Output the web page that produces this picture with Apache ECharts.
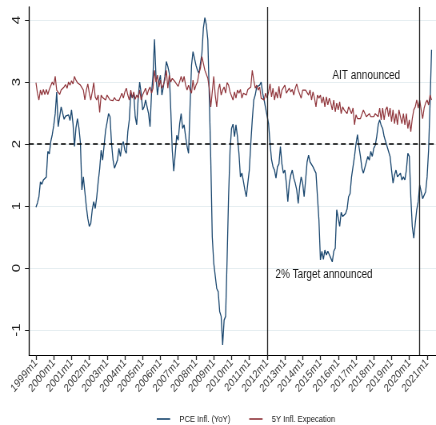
<!DOCTYPE html>
<html><head><meta charset="utf-8">
<script src="https://cdn.jsdelivr.net/npm/echarts@6/dist/echarts.min.js"></script>
<style>
html,body{margin:0;padding:0;background:#fff;overflow:hidden}
#wrap{width:436px;height:425px;overflow:hidden;position:relative}
#chart{width:545px;height:425px;transform:scaleX(0.8);transform-origin:0 0}
</style></head><body><div id="wrap"><div id="chart"></div></div>
<script>
// month index 0 = 1999m1
const tickLabels = ['1999m1','2000m1','2001m1','2002m1','2003m1','2004m1','2005m1','2006m1','2007m1','2008m1','2009m1','2010m1','2011m1','2012m1','2013m1','2014m1','2015m1','2016m1','2017m1','2018m1','2019m1','2020m1','2021m1'];
const yTicks = [-1, 0, 1, 2, 3, 4];
const seriesNames = ['PCE Infl. (YoY)', '5Y Infl. Expecation'];
const pce = [
0.98,1.05,1.15,1.39,1.35,1.42,1.45,1.47,1.88,1.84,
2.04,2.15,2.30,2.49,2.84,2.28,2.29,2.60,2.58,2.40,
2.45,2.43,2.47,2.38,2.55,2.33,1.96,2.26,2.41,2.26,
2.02,1.26,1.47,1.23,0.99,0.80,0.67,0.72,0.94,1.07,
0.96,1.14,1.39,1.60,1.90,1.74,1.98,2.22,2.35,2.49,
2.44,2.01,1.75,1.61,1.59,1.74,1.93,1.80,1.98,2.04,
1.90,1.85,2.20,2.39,2.82,2.75,2.82,2.44,2.31,2.74,
3.00,2.82,2.55,2.60,2.71,2.74,2.49,2.28,2.82,3.11,
3.69,3.10,2.79,3.00,3.11,2.79,2.92,3.09,3.33,3.25,
3.14,2.55,1.90,1.56,1.84,2.14,2.06,2.33,2.49,2.25,
2.31,2.12,1.96,1.85,2.60,3.27,3.49,3.38,3.27,3.19,
3.14,3.30,3.46,3.87,4.04,3.92,3.68,2.76,1.74,0.50,
0.08,0.07,-0.33,-0.38,-0.70,-0.78,-1.24,-0.84,-0.78,0.13,
1.15,1.90,2.25,2.32,2.12,2.31,2.12,1.85,1.47,1.53,
1.40,1.26,1.15,1.37,1.58,2.01,2.39,2.71,2.79,2.92,
2.90,2.95,3.00,2.82,2.71,2.58,2.55,2.33,2.01,1.75,
1.63,1.58,1.45,1.63,1.68,1.96,1.68,1.53,1.58,1.37,
1.07,1.37,1.50,1.58,1.45,1.37,1.26,1.04,1.31,1.47,
1.37,1.15,1.42,1.71,1.82,1.71,1.74,1.63,1.58,1.53,
1.15,0.77,0.13,0.27,0.14,0.29,0.21,0.27,0.29,0.16,
0.10,0.27,0.32,0.94,0.81,0.67,0.90,0.83,0.80,0.88,
0.95,1.15,1.20,1.47,1.45,1.80,2.00,2.15,1.96,1.80,
1.61,1.53,1.55,1.71,1.80,1.74,1.88,1.80,1.93,1.98,
2.12,2.31,2.39,2.30,2.25,2.12,2.04,1.96,1.88,1.80,
1.58,1.37,1.50,1.58,1.47,1.45,1.53,1.42,1.47,1.42,
1.58,1.85,1.80,1.15,0.67,0.48,0.72,0.94,1.07,1.34,
1.23,1.12,1.15,1.23,1.47,1.90,2.66,3.52
];
const expect5y = [
2.99,2.82,2.71,2.87,2.79,2.88,2.80,2.88,2.80,2.88,
2.91,3.00,2.95,3.09,2.87,2.90,2.80,2.87,2.84,2.92,
2.96,2.90,3.00,2.95,3.02,2.97,3.09,3.03,2.99,3.02,
2.95,2.97,2.87,2.71,2.87,2.97,2.82,2.71,2.84,2.99,
2.76,2.71,2.79,2.51,2.79,2.75,2.77,2.71,2.79,2.76,
2.71,2.74,2.70,2.75,2.71,2.74,2.70,2.76,2.82,2.74,
2.84,2.90,2.79,2.71,2.87,2.74,2.84,2.72,2.79,2.74,
2.87,2.71,2.79,2.82,2.90,2.79,2.87,2.92,2.82,2.90,
3.19,3.00,3.11,2.92,3.03,2.90,2.95,3.03,3.19,2.90,
3.11,3.00,3.06,3.03,3.00,3.02,2.93,2.90,3.09,3.00,
3.09,2.95,2.87,2.95,2.87,2.82,3.03,2.87,2.95,3.00,
3.14,3.22,3.41,3.38,3.19,3.19,3.06,2.90,2.60,2.84,
3.09,2.79,2.60,2.87,2.97,2.79,2.87,2.92,2.82,2.99,
2.95,2.84,2.87,2.71,2.84,2.74,2.87,2.82,2.88,2.74,
2.82,2.79,2.79,2.88,2.87,2.92,3.19,3.03,2.90,2.95,
2.87,2.92,2.74,2.71,2.71,2.82,2.74,2.84,2.97,2.76,
2.90,2.71,2.84,2.74,2.93,2.74,2.87,2.87,2.95,2.82,
2.84,2.90,2.84,2.88,2.79,2.90,2.97,2.87,2.84,2.74,
2.87,2.90,2.87,2.90,2.79,2.87,2.71,2.84,2.74,2.60,
2.79,2.74,2.79,2.66,2.76,2.60,2.76,2.63,2.74,2.66,
2.55,2.71,2.52,2.66,2.55,2.68,2.49,2.60,2.55,2.58,
2.49,2.60,2.55,2.49,2.58,2.31,2.47,2.41,2.39,2.41,
2.39,2.55,2.58,2.44,2.47,2.49,2.44,2.41,2.44,2.49,
2.49,2.44,2.58,2.39,2.58,2.39,2.55,2.60,2.44,2.58,
2.36,2.55,2.33,2.49,2.31,2.55,2.58,2.33,2.49,2.31,
2.49,2.25,2.39,2.20,2.41,2.55,2.60,2.71,2.58,2.71,
2.55,2.41,2.58,2.66,2.71,2.63,2.79,2.71
];
const targetLevel = 2;
const eventMonths = [156, 259];          // 2012m1, 2020m8
const annotationTexts = ['AIT announced', '2% Target announced'];

const tickPos = tickLabels.map((_, i) => i * 12);
const toPairs = arr => arr.map((v, i) => [i, v]);
const FONT = 'Liberation Sans, Arial, sans-serif';

const chart = echarts.init(document.getElementById('chart'), null, {renderer: 'canvas'});
chart.setOption({
  animation: false,
  backgroundColor: '#fff',
  grid: {left: 36.25, right: 0, top: 7, bottom: 70},
  xAxis: {
    type: 'value', min: -4.7, max: 270,
    axisLine: {show: true, onZero: false, lineStyle: {color: '#000', width: 1}},
    axisTick: {show: true, customValues: tickPos, length: 5, lineStyle: {color: '#222', width: 1.3}},
    axisLabel: {show: true, customValues: tickPos, formatter: v => tickLabels[Math.round(v / 12)],
      rotate: 45, fontSize: 11.5, color: '#3a3a3a', margin: 6, fontFamily: FONT},
    splitLine: {show: false}
  },
  yAxis: {
    type: 'value', min: -1.403, max: 4.21,
    axisLine: {show: true, onZero: false, lineStyle: {color: '#000', width: 1.3}},
    axisTick: {show: true, customValues: yTicks, length: 5, lineStyle: {color: '#222', width: 1}},
    axisLabel: {show: true, customValues: yTicks, rotate: 90, fontSize: 15, color: '#222', margin: 8, fontFamily: FONT},
    splitLine: {show: true, lineStyle: {color: '#e6eef1', width: 1}}
  },
  legend: {
    data: seriesNames, left: 191, top: 409, icon: 'rect', itemWidth: 16.7, itemHeight: 1.6,
    itemGap: 23.7, textStyle: {fontSize: 9.5, color: '#222', fontFamily: FONT, padding: [0, 0, 0, 6.6]}
  },
  series: [
    {
      name: seriesNames[0], type: 'line', data: toPairs(pce), showSymbol: false, symbol: 'none',
      color: '#1a476f', lineStyle: {color: '#1a476f', width: 1.3}, z: 3,
      markLine: {
        silent: true, symbol: ['none', 'none'], label: {show: false},
        data: [
          {yAxis: targetLevel, lineStyle: {type: [6, 4], color: '#000', width: 1.5}},
          {xAxis: eventMonths[0], lineStyle: {type: 'solid', color: '#222', width: 1.3}},
          {xAxis: eventMonths[1], lineStyle: {type: 'solid', color: '#222', width: 1.3}}
        ]
      },
      markPoint: {
        silent: true, symbol: 'circle', symbolSize: 1, itemStyle: {color: 'rgba(0,0,0,0)'},
        label: {show: true, position: 'right', distance: 0, formatter: '{b}', color: '#1a1a1a', fontSize: 12.5, fontFamily: FONT},
        data: [
          {name: annotationTexts[0], coord: [199.8, 3.10]},
          {name: annotationTexts[1], coord: [161.3, -0.113]}
        ]
      }
    },
    {
      name: seriesNames[1], type: 'line', data: toPairs(expect5y), showSymbol: false, symbol: 'none',
      color: '#90353b', lineStyle: {color: '#90353b', width: 1.2}, z: 4
    }
  ]
});
</script></body></html>
